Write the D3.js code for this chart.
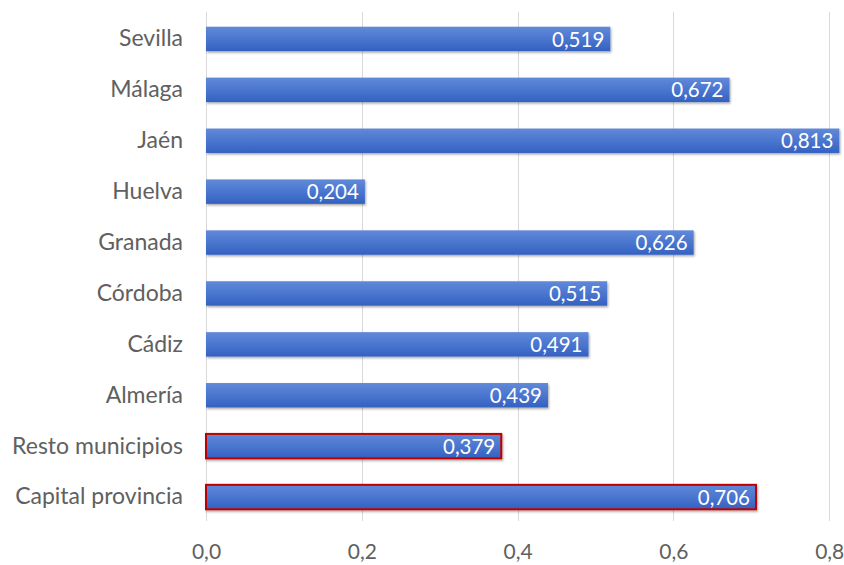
<!DOCTYPE html>
<html>
<head>
<meta charset="utf-8">
<script src="https://cdn.jsdelivr.net/npm/d3@7"></script>
<style>
  body { margin: 0; background: #fff; }
  text { font-family: Lato, "Open Sans", sans-serif; }
</style>
</head>
<body>
<script>
// provinces + the two aggregate rows, top to bottom
const categories = ['Sevilla', 'Málaga', 'Jaén', 'Huelva', 'Granada', 'Córdoba', 'Cádiz', 'Almería', 'Resto municipios', 'Capital provincia'];
const values = [0.519, 0.672, 0.813, 0.204, 0.626, 0.515, 0.491, 0.439, 0.379, 0.706];
const highlighted = ['Resto municipios', 'Capital provincia'];
const xTicks = [0, 0.2, 0.4, 0.6, 0.8];

const width = 844;
const height = 565;
const margin = { top: 13.5, right: 15, bottom: 42.5, left: 206 };

const fmt = v => d3.format('.3f')(v).replace('.', ',');
const fmtTick = v => d3.format('.1f')(v).replace('.', ',');

const svg = d3.select('body').append('svg').attr('width', width).attr('height', height);

const defs = svg.append('defs');
const grad = defs.append('linearGradient').attr('id', 'barGrad').attr('x1', 0).attr('y1', 0).attr('x2', 0).attr('y2', 1);
grad.append('stop').attr('offset', '0%').attr('stop-color', '#6189d9');
grad.append('stop').attr('offset', '50%').attr('stop-color', '#4a76cf');
grad.append('stop').attr('offset', '100%').attr('stop-color', '#3461c1');
const shadow = defs.append('filter').attr('id', 'shadow').attr('x', '-5%').attr('y', '-30%').attr('width', '110%').attr('height', '170%');
shadow.append('feDropShadow').attr('dx', 1).attr('dy', 1.5).attr('stdDeviation', 1.2).attr('flood-color', '#000').attr('flood-opacity', 0.35);

const x = d3.scaleLinear().domain([0, 0.8]).range([margin.left, margin.left + 0.8 / 0.2 * 155.8]);
const y = d3.scaleBand().domain(categories).range([margin.top, height - margin.bottom]).paddingInner(0.52).paddingOuter(0.26);

// vertical grid
svg.append('g')
  .selectAll('line').data(xTicks).enter().append('line')
  .attr('x1', d => Math.round(x(d)) + 0.5).attr('x2', d => Math.round(x(d)) + 0.5)
  .attr('y1', 12).attr('y2', 521)
  .attr('stroke', '#d9d9d9').attr('stroke-width', 1);

// x axis labels
const xAxis = d3.axisBottom(x).tickValues(xTicks).tickFormat(fmtTick).tickSize(0).tickPadding(0);
const gx = svg.append('g').attr('transform', 'translate(0,559)').call(xAxis);
gx.select('.domain').remove();
gx.selectAll('text').attr('y', 0).attr('dy', 0).attr('font-size', 21).attr('fill', '#606060').attr('font-family', 'Lato, sans-serif');

// y axis labels
const yAxis = d3.axisLeft(y).tickSize(0).tickPadding(23);
const gy = svg.append('g').attr('transform', `translate(${margin.left},0)`).call(yAxis);
gy.select('.domain').remove();
gy.selectAll('text').attr('font-size', 23).attr('fill', '#606060').attr('font-family', 'Lato, sans-serif');

// bars
const bars = svg.append('g').selectAll('g').data(categories).enter().append('g');
bars.append('rect')
  .attr('x', x(0))
  .attr('y', d => y(d))
  .attr('width', (d, i) => x(values[i]) - x(0))
  .attr('height', y.bandwidth())
  .attr('fill', 'url(#barGrad)')
  .attr('filter', 'url(#shadow)')
  .attr('stroke', d => highlighted.includes(d) ? '#c00000' : 'none')
  .attr('stroke-width', 2);

bars.append('text')
  .attr('x', (d, i) => x(values[i]) - 6)
  .attr('y', d => y(d) + y.bandwidth() / 2)
  .attr('dy', '0.37em')
  .attr('text-anchor', 'end')
  .attr('font-size', 20.5)
  .attr('fill', '#fff')
  .text((d, i) => fmt(values[i]));
</script>
</body>
</html>
